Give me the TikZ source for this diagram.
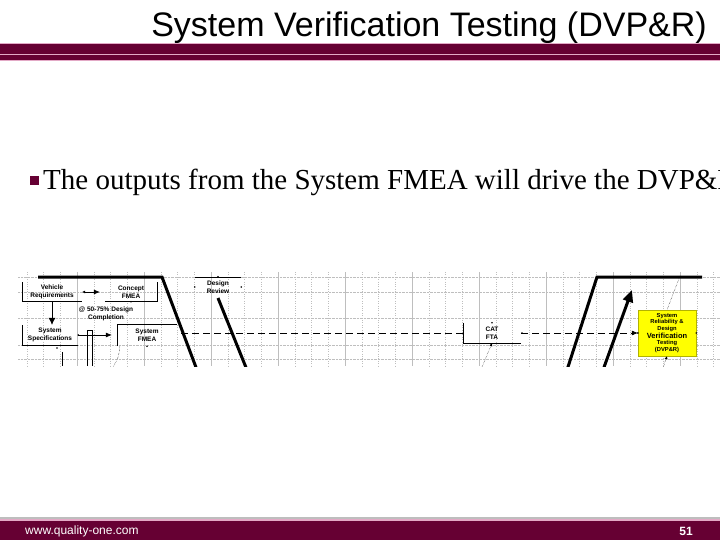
\documentclass[tikz,border=0pt]{standalone}
\usepackage{fontspec}
\setmainfont{Liberation Serif}
\newfontfamily\arial{Liberation Sans}
\usepackage{xcolor}
\usetikzlibrary{arrows.meta,positioning,calc}
\definecolor{bordeaux}{HTML}{660033}
\definecolor{rosa}{HTML}{E3A9C6}
\definecolor{griglia}{HTML}{BEBEBE}
\definecolor{giallo}{HTML}{FFFF00}

\begin{document}
\begin{tikzpicture}[x=1pt,y=-1pt,
  lbl/.style={font=\arial\bfseries\fontsize{6.5}{8}\selectfont, align=center, inner sep=0pt},
  filo/.style={line width=0.6pt},
  fase/.style={line width=3pt},
  punta/.style={-{Latex[length=6pt,width=5pt]}}]
\useasboundingbox (0,0) rectangle (720,540);

% titolo e barra
\node[anchor=base east, font=\arial\fontsize{34}{34}\selectfont, inner sep=0] (titolo) at (707,37) {System Verification Testing (DVP\&R)};
\fill[rosa] (0,43) rectangle (720,61);
\fill[bordeaux] (0,44) rectangle (720,54);
\fill[bordeaux] (0,55.5) rectangle (720,60);

\fill[bordeaux] (30,176) rectangle (39,185);
\node[anchor=base west, font=\fontsize{29}{29}\selectfont, inner sep=0] (punto) at (43,190) {The outputs from the System FMEA will drive the DVP\&R};

\begin{scope}
\clip (18,272) rectangle (720,366);
% griglia
\foreach \x in {10,77,...,680} {
  \draw[griglia] (\x,272) -- (\x,366);
  \foreach \k in {1,2,3} \draw[griglia, dotted] ({\x+16.75*\k},272) -- ++(0,94);
}
\foreach \y in {277,292,318,345,359} \draw[griglia, densely dotted] (18,\y) -- (720,\y);

\node[lbl, minimum width=60, minimum height=19] (vr) at (52,292) {Vehicle\\Requirements};
\node[lbl, minimum width=52, minimum height=19] (cf) at (131,292) {Concept\\FMEA};
\node[lbl] (comp) at (106,314) {@ 50-75\% Design\\Completion};
\node[lbl, minimum width=56, minimum height=20] (ss) at (50,335) {System\\Specifications};
\node[lbl, minimum width=60, minimum height=22] (sf) at (147,335) {System\\FMEA};
\node[lbl, minimum width=46, minimum height=20] (dr) at (218,287) {Design\\Review};
\node[lbl, minimum width=58, minimum height=20] (cat) at (492,333) {CAT\\FTA};
\node[lbl, font=\arial\bfseries\fontsize{5.8}{6.6}\selectfont, fill=giallo, draw=giallo!70!black, line width=0.3pt, minimum width=58, minimum height=46] (svt) at (667,333)
  {System\\Reliability \&\\Design\\{\fontsize{7.5}{8.5}\selectfont Verification}\\Testing\\(DVP\&R)};

\draw[filo] (vr.north west) -- (vr.south west) -- (vr.south east);
\draw[filo] (cf.south west) -- (cf.south east) -- (cf.north east);
\draw[filo] (ss.north west) -- (ss.south west) -- (ss.south east);
\draw[filo] (sf.south west) -- (sf.north west) -- (sf.north east);
\draw[filo] (dr.north west) -- (dr.north east);
\draw[filo] (cat.north west) -- (cat.south west) -- (cat.south east);

% fasi
\draw[fase] (38,277) -- (162,277) -- (197,370);
\draw[fase] (218,298) -- (247,370);
\draw[fase] (567,370) -- (597,277) -- (702,277);
\draw[fase, -{Triangle[length=12pt,width=10pt]}] (603,370) -- (632,290);

\draw[filo, -{Latex[length=7pt,width=7pt]}] (vr.south) -- (vr.south |- ss.north);
\draw[filo, punta, shorten >=5pt] (ss.east) -- (sf.west);
\draw[filo, {Latex[length=3pt,width=3pt]}-{Latex[length=6pt,width=5pt]}, shorten >=5pt] (vr.east) -- (cf.west);
\draw[filo] (87,366) -- (87,330) -- (92,330) -- (92,366);
\draw[filo] (62,352) -- (62,366);

\coordinate (d0) at (181,333);
\draw[filo, dash pattern=on 7pt off 4pt] (d0) -- (cat.west);
\draw[filo, dash pattern=on 7pt off 4pt, punta] (cat.east) -- (svt.west);

\coordinate (p1) at (113,367);
\coordinate (p2) at (482,367);
\coordinate (p3) at (680,276);
\coordinate (p4) at (663,368);
\draw[densely dotted] ([xshift=3pt]sf.south west) to[bend left=15] (p1);
\draw[densely dotted, {Latex[length=3pt,width=3pt]}-] (cat.south) -- (p2);
\draw[densely dotted] (p3) -- (svt.north);
\draw[densely dotted, {Latex[length=3pt,width=3pt]}-] (svt.south) -- (p4);

\foreach \p in {dr.west, dr.east, dr.north, cf.south, sf.south, cat.north, svt.west, svt.east, ss.east}
  \fill (\p) circle (0.9);
\fill (57,348) circle (0.9);
\fill (522,333) circle (0.9);
\end{scope}

% pie di pagina
\fill[griglia] (0,517) rectangle (720,519);
\fill[rosa] (0,519) rectangle (720,521);
\fill[bordeaux] (0,521) rectangle (720,540);
\node[anchor=base west, text=white, font=\arial\fontsize{12}{12}\selectfont, inner sep=0] (sito) at (25,534) {www.quality-one.com};
\node[anchor=base east, text=white, font=\arial\bfseries\fontsize{12}{12}\selectfont, inner sep=0] (pagina) at (693,535) {51};
\end{tikzpicture}
\end{document}
